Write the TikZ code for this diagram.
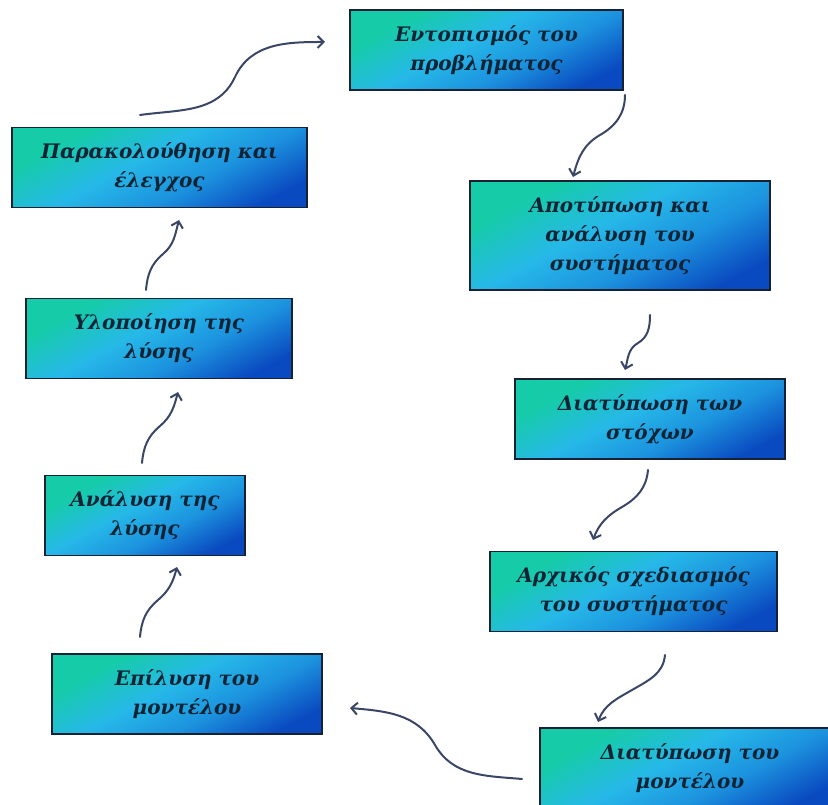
\documentclass[tikz,border=0pt]{standalone}
\usepackage{fontspec}
\setmainfont{DejaVu Serif}
\usetikzlibrary{arrows.meta}
\definecolor{boxteal}{RGB}{22,204,168}
\definecolor{boxcyan}{RGB}{38,184,232}
\definecolor{boxmid}{RGB}{28,146,222}
\definecolor{boxblue}{RGB}{10,74,192}
\definecolor{boxedge}{RGB}{22,34,52}
\definecolor{boxtext}{RGB}{14,36,52}
\definecolor{flow}{RGB}{58,70,102}
% teal in the upper left corner, sky blue across the middle, deep blue lower right
\pgfdeclareverticalshading{stageshade}{100bp}{%
  color(0bp)=(boxblue); color(24bp)=(boxblue); color(40bp)=(boxmid);
  color(55bp)=(boxcyan); color(72bp)=(boxteal); color(100bp)=(boxteal)}
\tikzset{
  stage/.style={draw=boxedge, line width=1.4pt,
    shading=stageshade, shading angle=28,
    minimum height=80pt, inner sep=2pt, align=center, text=boxtext,
    font=\fontsize{20}{29}\selectfont\bfseries\itshape},
  flowarrow/.style={draw=flow, line width=2pt, line cap=round,
    -{Straight Barb[length=6pt,width=12pt,line width=2pt]}}
}
\begin{document}
\begin{tikzpicture}[x=1pt,y=1pt]
\useasboundingbox (0,0) rectangle (828,805);

% stages of the cycle
\node[stage, minimum width=273pt] (s1) at (486.5,755) {Εντοπισμός του\\προβλήματος};
\node[stage, minimum width=300pt, minimum height=109pt] (s2) at (620,569.5) {Αποτύπωση και\\ανάλυση του\\συστήματος};
\node[stage, minimum width=270pt] (s3) at (650,386) {Διατύπωση των\\στόχων};
\node[stage, minimum width=287pt] (s4) at (633.5,213.5) {Αρχικός σχεδιασμός\\του συστήματος};
\node[stage, minimum width=300pt] (s5) at (690,37) {Διατύπωση του\\μοντέλου};
\node[stage, minimum width=270pt] (s6) at (187,111) {Επίλυση του\\μοντέλου};
\node[stage, minimum width=200pt] (s7) at (145,289.5) {Ανάλυση της\\λύσης};
\node[stage, minimum width=266pt] (s8) at (159,466.5) {Υλοποίηση της\\λύσης};
\node[stage, minimum width=295pt] (s9) at (159.5,637.5) {Παρακολούθηση και\\έλεγχος};

% wavy connectors between the stages
\coordinate (a0) at (140,690); \coordinate (am) at (235,728); \coordinate (a1) at (325,763);
\draw[flowarrow] (a0) to[out=8,in=245] (am) to[out=65,in=180] (a1);

\coordinate (b0) at (625,710); \coordinate (bm) at (600,670); \coordinate (b1) at (573,628);
\draw[flowarrow] (b0) to[out=270,in=30] (bm) to[out=210,in=75] (b1);

\coordinate (c0) at (650,490); \coordinate (cm) at (638,462); \coordinate (c1) at (625,435);
\draw[flowarrow] (c0) to[out=270,in=30] (cm) to[out=210,in=75] (c1);

\coordinate (d0) at (648,335); \coordinate (dm) at (622,298); \coordinate (d1) at (593,265);
\draw[flowarrow] (d0) to[out=265,in=30] (dm) to[out=210,in=70] (d1);

\coordinate (e0) at (665,150); \coordinate (em) at (632,115); \coordinate (e1) at (598,83);
\draw[flowarrow] (e0) to[out=265,in=30] (em) to[out=210,in=70] (e1);

\coordinate (f0) at (522,26); \coordinate (fm) at (435,60); \coordinate (f1) at (350,97);
\draw[flowarrow] (f0) to[out=175,in=-60] (fm) to[out=120,in=-5] (f1);

\coordinate (g0) at (140,168); \coordinate (gm) at (158,205); \coordinate (g1) at (177,238);
\draw[flowarrow] (g0) to[out=85,in=220] (gm) to[out=40,in=255] (g1);

\coordinate (h0) at (142,342); \coordinate (hm) at (160,379); \coordinate (h1) at (178,413);
\draw[flowarrow] (h0) to[out=85,in=220] (hm) to[out=40,in=255] (h1);

\coordinate (i0) at (146,515); \coordinate (im) at (163,551); \coordinate (i1) at (179,585);
\draw[flowarrow] (i0) to[out=85,in=220] (im) to[out=40,in=255] (i1);
\end{tikzpicture}
\end{document}
